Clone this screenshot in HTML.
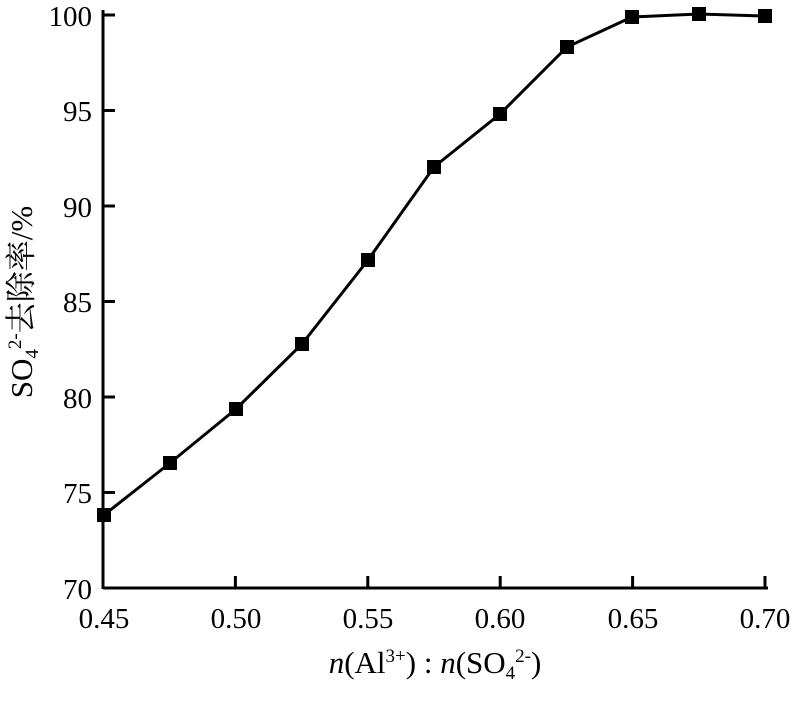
<!DOCTYPE html>
<html><head><meta charset="utf-8"><style>body{margin:0;background:#fff}</style></head><body>
<svg width="802" height="697" xmlns="http://www.w3.org/2000/svg" font-family="Liberation Serif, Noto Serif CJK SC, serif" font-size="29">
<g stroke="#000" stroke-width="3" fill="none">
<line x1="103" y1="588" x2="768" y2="588"/>
<line x1="103" y1="10" x2="103" y2="589"/>
<line x1="103" y1="492.5" x2="115" y2="492.5"/>
<line x1="103" y1="397" x2="115" y2="397"/>
<line x1="103" y1="301.5" x2="115" y2="301.5"/>
<line x1="103" y1="206" x2="115" y2="206"/>
<line x1="103" y1="110.5" x2="115" y2="110.5"/>
<line x1="103" y1="15" x2="115" y2="15"/>
<line x1="235.4" y1="588" x2="235.4" y2="576"/>
<line x1="367.8" y1="588" x2="367.8" y2="576"/>
<line x1="500.2" y1="588" x2="500.2" y2="576"/>
<line x1="632.6" y1="588" x2="632.6" y2="576"/>
<line x1="765" y1="588" x2="765" y2="576"/>
<polyline points="104,515 170,463 236,409 302,344 368,260 434,167 500,114 567,47 632,17 699,14 765,16"/>
</g>
<g fill="#000">
<rect x="97" y="508" width="14" height="14"/><rect x="163" y="456" width="14" height="14"/><rect x="229" y="402" width="14" height="14"/><rect x="295" y="337" width="14" height="14"/><rect x="361" y="253" width="14" height="14"/><rect x="427" y="160" width="14" height="14"/><rect x="493" y="107" width="14" height="14"/><rect x="560" y="40" width="14" height="14"/><rect x="625" y="10" width="14" height="14"/><rect x="692" y="7" width="14" height="14"/><rect x="758" y="9" width="14" height="14"/>
</g>
<g text-anchor="end">
<text x="92" y="599">70</text><text x="92" y="503">75</text><text x="92" y="408">80</text><text x="92" y="312">85</text><text x="92" y="217">90</text><text x="92" y="121">95</text><text x="92" y="26">100</text>
</g>
<g text-anchor="middle">
<text x="104" y="628">0.45</text><text x="236" y="628">0.50</text><text x="368" y="628">0.55</text><text x="500" y="628">0.60</text><text x="633" y="628">0.65</text><text x="765" y="628">0.70</text>
<text x="435" y="673" font-size="31"><tspan font-style="italic">n</tspan>(Al<tspan font-size="19" dy="-11">3+</tspan><tspan dy="11">) : </tspan><tspan font-style="italic">n</tspan>(SO<tspan font-size="19" dy="6">4</tspan><tspan font-size="19" dy="-17">2-</tspan><tspan dy="11">)</tspan></text>
<text transform="translate(32,302) rotate(-90)" font-size="31">SO<tspan font-size="19" dy="6">4</tspan><tspan font-size="19" dy="-17">2-</tspan><tspan dy="11">去除率/%</tspan></text>
</g>
</svg>
</body></html>
